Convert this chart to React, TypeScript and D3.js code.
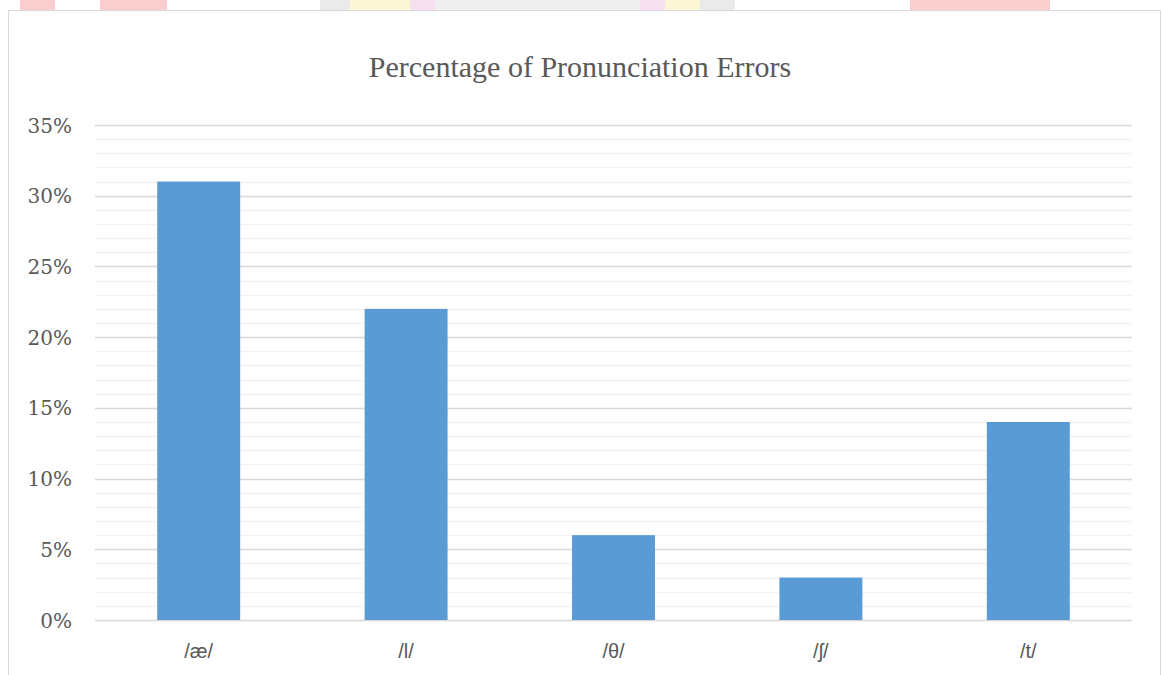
import React from "react";
import * as d3 from "d3";

const categories = ["/æ/", "/l/", "/θ/", "/ʃ/", "/t/"];
const values = [0.31, 0.22, 0.06, 0.03, 0.14];
const majorTicks = [0, 0.05, 0.1, 0.15, 0.2, 0.25, 0.3, 0.35];
const minorTicks = d3.range(0, 36).map((d) => d / 100);
const title = "Percentage of Pronunciation Errors";

const W = 1162;
const H = 675;
const plot = { left: 95, right: 1132, top: 125, bottom: 620 };

export default function App() {
  const x = d3
    .scaleBand<string>()
    .domain(categories)
    .range([plot.left, plot.right])
    .paddingInner(0.6)
    .paddingOuter(0.3);
  const y = d3.scaleLinear().domain([0, 0.35]).range([plot.bottom, plot.top]);
  const fmt = d3.format(".0%");

  return (
    <svg
      width={W}
      height={H}
      style={{ position: "absolute", left: 0, top: 0, display: "block" }}
    >
      <rect x={0} y={0} width={W} height={H} fill="#ffffff" />
      {/* faint watermark above the frame */}
      <g opacity={0.3}>
        <rect x={20} y={0} width={35} height={10} fill="#f06060" />
        <rect x={100} y={0} width={67} height={10} fill="#f06060" />
        <rect x={320} y={0} width={30} height={10} fill="#bbbbbb" />
        <rect x={350} y={0} width={60} height={10} fill="#f3e77a" />
        <rect x={410} y={0} width={25} height={10} fill="#e69ad0" />
        <rect x={435} y={0} width={205} height={10} fill="#cccccc" />
        <rect x={640} y={0} width={25} height={10} fill="#e69ad0" />
        <rect x={665} y={0} width={35} height={10} fill="#f3e77a" />
        <rect x={700} y={0} width={35} height={10} fill="#bbbbbb" />
        <rect x={910} y={0} width={140} height={10} fill="#f06060" />
      </g>
      <rect
        x={8.5}
        y={10.5}
        width={1152}
        height={H}
        fill="#ffffff"
        stroke="#d9d9d9"
        strokeWidth={1}
      />
      <text
        x={580}
        y={77}
        textAnchor="middle"
        fontFamily="'Liberation Serif', serif"
        fontSize={30}
        fill="#595959"
      >
        {title}
      </text>
      {minorTicks.map((t) => (
        <line
          key={"m" + t}
          x1={plot.left}
          x2={plot.right}
          y1={Math.round(y(t)) + 0.5}
          y2={Math.round(y(t)) + 0.5}
          stroke="#f2f2f2"
          strokeWidth={1.5}
        />
      ))}
      {majorTicks.map((t) => (
        <line
          key={"M" + t}
          x1={plot.left}
          x2={plot.right}
          y1={Math.round(y(t)) + 0.5}
          y2={Math.round(y(t)) + 0.5}
          stroke="#d9d9d9"
          strokeWidth={1.5}
        />
      ))}
      {majorTicks.map((t) => (
        <text
          key={"L" + t}
          x={72}
          y={y(t) + 7.5}
          textAnchor="end"
          fontFamily="'DejaVu Serif', serif"
          fontSize={20}
          fill="#595959"
        >
          {fmt(t)}
        </text>
      ))}
      {categories.map((c, i) => (
        <rect
          key={c}
          x={x(c)}
          y={y(values[i])}
          width={x.bandwidth()}
          height={y(0) - y(values[i])}
          fill="#5b9bd5"
        />
      ))}
      {categories.map((c) => (
        <text
          key={"c" + c}
          x={(x(c) as number) + x.bandwidth() / 2}
          y={658}
          textAnchor="middle"
          fontFamily="'Liberation Sans', sans-serif"
          fontSize={20}
          fill="#595959"
        >
          {c}
        </text>
      ))}
    </svg>
  );
}
